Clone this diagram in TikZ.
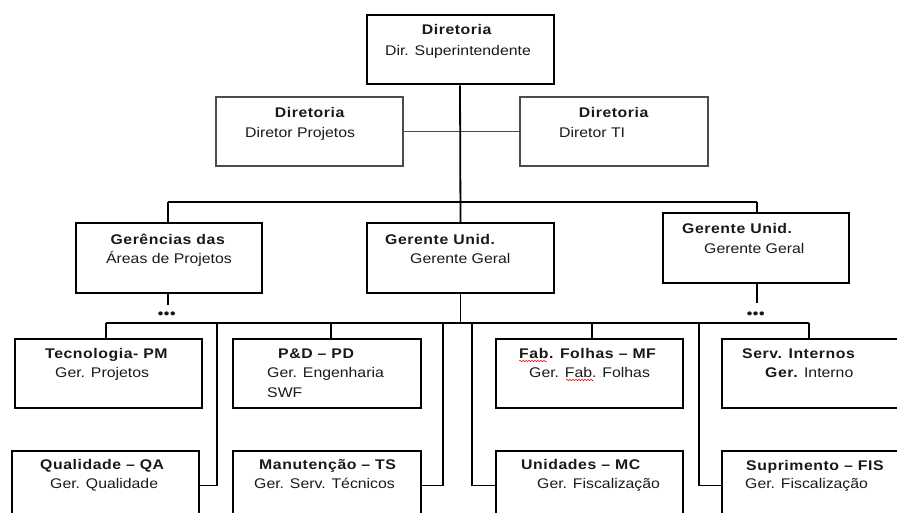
\documentclass[tikz,border=0pt]{standalone}
\usepackage{fontspec}
\setmainfont{Liberation Sans}[FakeStretch=1.13, BoldFeatures={LetterSpace=4}]
\usetikzlibrary{decorations.pathmorphing}
\begin{document}
\begin{tikzpicture}[x=1pt,y=-1pt,
  box/.style={draw, line width=2pt, inner sep=0pt},
  midbox/.style={draw, line width=1.6pt, inner sep=0pt},
  dirbox/.style={draw=black!70, line width=1.2pt, inner sep=0pt},
  conn/.style={line width=1.8pt},
  thinconn/.style={line width=1.4pt, draw=black!70},
  txt/.style={inner sep=0pt, font=\fontsize{14}{16}\selectfont, text=black!90},
  lt/.style={txt, anchor=base west},
  ct/.style={txt, anchor=base},
  squig/.style={draw=red, line width=0.5pt, decorate, decoration={snake, amplitude=0.8pt, segment length=3pt}}]
\path[use as bounding box] (0,0) rectangle (897,513);
\clip (0,0) rectangle (897,513);
% boxes
\node[box, minimum width=187pt, minimum height=69pt] (top) at (460,50) {};
\node[dirbox, minimum width=187pt, minimum height=69pt] (dp) at (309.5,131.5) {};
\node[dirbox, minimum width=188pt, minimum height=69pt] (dti) at (614,131.5) {};
\node[midbox, minimum width=186pt, minimum height=70pt] (gp) at (169,258) {};
\node[midbox, minimum width=187pt, minimum height=70pt] (gu1) at (460.5,258) {};
\node[midbox, minimum width=186pt, minimum height=70pt] (gu2) at (756,248) {};
\node[box, minimum width=187pt, minimum height=69pt] (tec) at (108.5,373.5) {};
\node[box, minimum width=188pt, minimum height=69pt] (pd) at (327,373.5) {};
\node[box, minimum width=187pt, minimum height=69pt] (fab) at (589.5,373.5) {};
\node[box, minimum width=188pt, minimum height=69pt] (srv) at (816,373.5) {};
\node[box, minimum width=187pt, minimum height=69pt] (qa) at (105.5,485.5) {};
\node[box, minimum width=188pt, minimum height=69pt] (man) at (327,485.5) {};
\node[box, minimum width=187pt, minimum height=69pt] (uni) at (589.5,485.5) {};
\node[box, minimum width=188pt, minimum height=69pt] (sup) at (816,485.5) {};
% texts
\node[ct] (t1) at (457,35) {\textbf{Diretoria}};
\node[ct] (t2) at (458,56) {Dir. Superintendente};
\node[ct] (t3) at (310,118) {\textbf{Diretoria}};
\node[lt] (t4) at (245,138) {Diretor Projetos};
\node[ct] (t5) at (614,118) {\textbf{Diretoria}};
\node[lt] (t6) at (559,138) {Diretor TI};
\node[ct] (t7) at (168,245) {\textbf{Gerências das}};
\node[ct] (t8) at (169,264) {Áreas de Projetos};
\node[lt] (t9) at (385,245) {\textbf{Gerente Unid.}};
\node[lt] (t10) at (410,264) {Gerente Geral};
\node[lt] (t11) at (682,234) {\textbf{Gerente Unid.}};
\node[lt] (t12) at (704,254) {Gerente Geral};
\node[lt] (t13) at (45,358) {\textbf{Tecnologia- PM}};
\node[lt] (t14) at (55,377) {Ger. Projetos};
\node[lt] (t15) at (278,358) {\textbf{P\&D – PD}};
\node[lt] (t16) at (267,377) {Ger. Engenharia};
\node[lt] (t17) at (267,397) {SWF};
\node[lt] (t18) at (519,358) {\textbf{Fab. Folhas – MF}};
\node[lt] (t19) at (529,377) {Ger. Fab. Folhas};
\node[lt] (t20) at (742,358) {\textbf{Serv. Internos}};
\node[lt] (t21) at (765,377) {\textbf{Ger.} Interno};
\node[lt] (t22) at (40,469) {\textbf{Qualidade – QA}};
\node[lt] (t23) at (50,488) {Ger. Qualidade};
\node[lt] (t24) at (259,469) {\textbf{Manutenção – TS}};
\node[lt] (t25) at (254,488) {Ger. Serv. Técnicos};
\node[lt] (t26) at (521,469) {\textbf{Unidades – MC}};
\node[lt] (t27) at (537,488) {Ger. Fiscalização};
\node[lt] (t28) at (746,470) {\textbf{Suprimento – FIS}};
\node[lt] (t29) at (745,488) {Ger. Fiscalização};
\node[ct] (d1) at (167,318) {\textbf{•••}};
\node[ct] (d2) at (756,318) {\textbf{•••}};
% squiggles
\draw[squig] (519,361) -- (547,361);
\draw[squig] (566,380) -- (594,380);
% coordinates
\coordinate (b1l) at (168,202);
\coordinate (b1r) at (757,202);
\coordinate (b1c) at (460,202);
\coordinate (gpd) at (168,305);
\coordinate (gud) at (757,303);
\coordinate (b2l) at (106,323);
\coordinate (b2r) at (809,323);
\coordinate (c217) at (217,323);
\coordinate (c331) at (331,323);
\coordinate (c443) at (443,323);
\coordinate (c472) at (472,323);
\coordinate (c592) at (592,323);
\coordinate (c699) at (699,323);
% connectors
\draw[thinconn] (dp.east) -- (dti.west);
\draw[conn] (top.south) -- (gu1.north);
\draw[conn] (b1l) -- (b1r);
\draw[conn] (b1l) -- (gp.north -| b1l);
\draw[conn] (b1r) -- (gu2.north -| b1r);
\draw[conn] (gp.south -| gpd) -- (gpd);
\draw[conn] (gu2.south -| gud) -- (gud);
\draw[conn] (gu1.south) -- (gu1.south |- b2l);
\draw[conn] (b2l) -- (b2r);
\draw[conn] (b2l) -- (tec.north -| b2l);
\draw[conn] (c331) -- (pd.north -| c331);
\draw[conn] (c592) -- (fab.north -| c592);
\draw[conn] (b2r) -- (srv.north -| b2r);
\draw[conn] (c217) |- (qa.east);
\draw[conn] (c443) |- (man.east);
\draw[conn] (c472) |- (uni.west);
\draw[conn] (c699) |- (sup.west);
\end{tikzpicture}
\end{document}
